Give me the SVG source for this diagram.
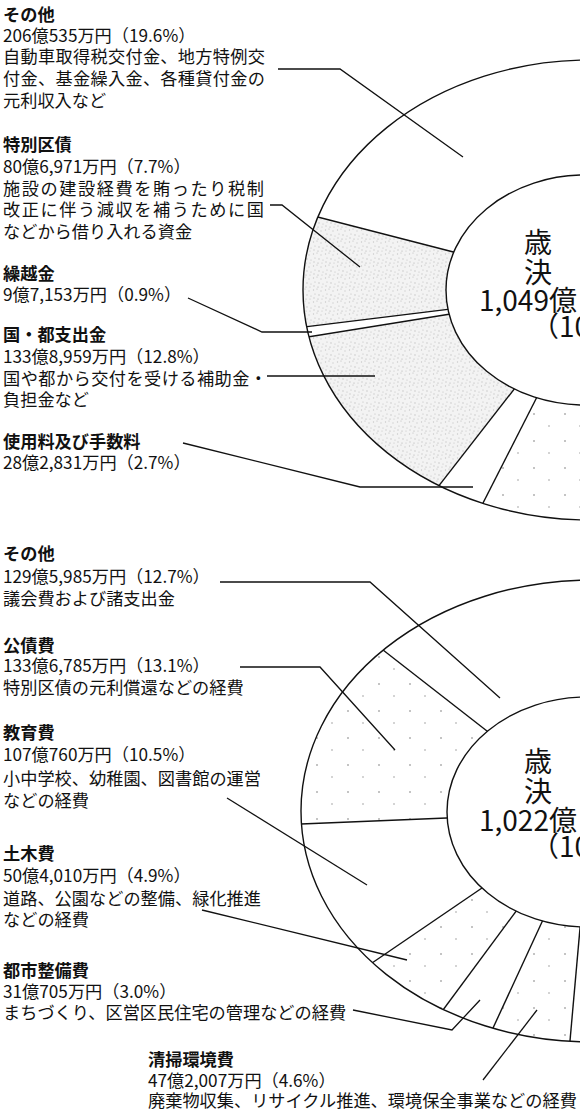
<svg xmlns="http://www.w3.org/2000/svg" width="580" height="1111" viewBox="0 0 580 1111">
<defs>
<style>
.t{font-family:"Noto Sans CJK JP","Noto Sans",sans-serif;font-size:17.2px;fill:#111}
.b{font-weight:bold}
.c{font-family:"Noto Sans CJK JP","Noto Sans",sans-serif;font-size:28px;fill:#111}
.ring{fill:none;stroke:#111;stroke-width:1.4}
.sep{stroke:#111;stroke-width:1.4;fill:none}
.lead{stroke:#111;stroke-width:1.3;fill:none}
.dense{fill:url(#dense)}
.sparse{fill:url(#sparse)}
</style>
<pattern id="dense" width="12" height="12" patternUnits="userSpaceOnUse">
<rect width="12" height="12" fill="#f3f3f3"/>
<circle cx="1.5" cy="2" r="0.7" fill="#c8c8c8"/>
<circle cx="5" cy="1" r="0.5" fill="#b0b0b0"/>
<circle cx="9" cy="3" r="0.8" fill="#d4d4d4"/>
<circle cx="3" cy="6" r="0.6" fill="#bdbdbd"/>
<circle cx="7" cy="7" r="0.9" fill="#d8d8d8"/>
<circle cx="11" cy="8" r="0.5" fill="#b4b4b4"/>
<circle cx="2" cy="10" r="0.8" fill="#cfcfcf"/>
<circle cx="6" cy="11" r="0.5" fill="#a0a0a0"/>
<circle cx="10" cy="11" r="0.6" fill="#c4c4c4"/>
</pattern>
<pattern id="sparse" width="31" height="27" patternUnits="userSpaceOnUse">
<circle cx="7" cy="9" r="0.8" fill="#777"/>
<circle cx="22" cy="21" r="0.7" fill="#888"/>
</pattern>
<clipPath id="ringTop"><path clip-rule="evenodd" d="M303,290 a287,230 0 1,0 574,0 a287,230 0 1,0 -574,0 Z M446,290 a139,115 0 1,0 278,0 a139,115 0 1,0 -278,0 Z"/></clipPath>
<clipPath id="ringBot"><path clip-rule="evenodd" d="M301,811 a291,231 0 1,0 582,0 a291,231 0 1,0 -582,0 Z M447,812 a140,115 0 1,0 280,0 a140,115 0 1,0 -280,0 Z"/></clipPath>
</defs>
<rect width="580" height="1111" fill="#fff"/>

<g id="chart-revenue">
<g clip-path="url(#ringTop)">
<polygon class="dense" points="495,262 276,206 262,333 494,304"/>
<polygon class="dense" points="493,307 265,344 200,560 415,517 538,358"/>
<polygon class="sparse" points="553,365 467,535 470,600 620,600 620,365"/>
<line class="sep" x1="306" y1="214" x2="465" y2="255"/>
<line class="sep" x1="293" y1="328.4" x2="462" y2="307.6"/>
<line class="sep" x1="296.6" y1="338.8" x2="461.4" y2="312.2"/>
<line class="sep" x1="431.8" y1="494.9" x2="521.2" y2="380.1"/>
<line class="sep" x1="478.7" y1="511.5" x2="541.3" y2="388.5"/>
</g>
<ellipse class="ring" cx="590" cy="290" rx="287" ry="230"/>
<ellipse class="ring" cx="585" cy="290" rx="139" ry="115"/>
</g>

<g id="chart-expenditure">
<g clip-path="url(#ringBot)">
<polygon class="sparse" points="518,755 352,626 256,826 491,816"/>
<polygon class="sparse" points="515,865.5 339,985.5 420.8,1040 539.2,880"/>
<polygon class="sparse" points="556.7,890 478,1060 567,1075 583,894"/>
<line class="sep" x1="374.7" y1="643.5" x2="495.3" y2="737.5"/>
<line class="sep" x1="288.2" y1="824.5" x2="458.8" y2="817.5"/>
<line class="sep" x1="363.2" y1="969" x2="490.8" y2="882"/>
<line class="sep" x1="437.1" y1="1018" x2="522.9" y2="902"/>
<line class="sep" x1="489.1" y1="1036.5" x2="545.9" y2="913.5"/>
<line class="sep" x1="569" y1="1052" x2="581" y2="917"/>
</g>
<ellipse class="ring" cx="592" cy="811" rx="291" ry="231"/>
<ellipse class="ring" cx="587" cy="812" rx="140" ry="115"/>
</g>

<g id="center-revenue">
<text class="c" x="524" y="253">歳</text>
<text class="c" x="524" y="283">決</text>
<text class="c" x="479" y="311">1,049億</text>
<text class="c" x="531" y="337">（10</text>
</g>
<g id="center-expenditure">
<text class="c" x="524" y="772">歳</text>
<text class="c" x="524" y="802">決</text>
<text class="c" x="479" y="831">1,022億</text>
<text class="c" x="531" y="857">（10</text>
</g>

<g id="label-rev-other">
<text class="t b" x="3" y="21">その他</text>
<text class="t" x="3" y="42">206億535万円（19.6%）</text>
<text class="t" x="3" y="63" textLength="262" lengthAdjust="spacing">自動車取得税交付金、地方特例交</text>
<text class="t" x="3" y="85" textLength="262" lengthAdjust="spacing">付金、基金繰入金、各種貸付金の</text>
<text class="t" x="3" y="107">元利収入など</text>
</g>
<g id="label-rev-bond">
<text class="t b" x="3" y="151">特別区債</text>
<text class="t" x="3" y="173">80億6,971万円（7.7%）</text>
<text class="t" x="3" y="195" textLength="261" lengthAdjust="spacing">施設の建設経費を賄ったり税制</text>
<text class="t" x="3" y="216" textLength="261" lengthAdjust="spacing">改正に伴う減収を補うために国</text>
<text class="t" x="3" y="238">などから借り入れる資金</text>
</g>
<g id="label-rev-carry">
<text class="t b" x="3" y="280">繰越金</text>
<text class="t" x="3" y="301">9億7,153万円（0.9%）</text>
</g>
<g id="label-rev-subsidy">
<text class="t b" x="3" y="341">国・都支出金</text>
<text class="t" x="3" y="363">133億8,959万円（12.8%）</text>
<text class="t" x="3" y="385" textLength="264" lengthAdjust="spacing">国や都から交付を受ける補助金・</text>
<text class="t" x="3" y="406">負担金など</text>
</g>
<g id="label-rev-fees">
<text class="t b" x="3" y="448">使用料及び手数料</text>
<text class="t" x="3" y="469">28億2,831万円（2.7%）</text>
</g>

<g id="label-exp-other">
<text class="t b" x="3" y="560">その他</text>
<text class="t" x="3" y="583">129億5,985万円（12.7%）</text>
<text class="t" x="3" y="605">議会費および諸支出金</text>
</g>
<g id="label-exp-debt">
<text class="t b" x="3" y="652">公債費</text>
<text class="t" x="3" y="672">133億6,785万円（13.1%）</text>
<text class="t" x="3" y="694">特別区債の元利償還などの経費</text>
</g>
<g id="label-exp-edu">
<text class="t b" x="3" y="739">教育費</text>
<text class="t" x="3" y="761">107億760万円（10.5%）</text>
<text class="t" x="3" y="785" textLength="258" lengthAdjust="spacing">小中学校、幼稚園、図書館の運営</text>
<text class="t" x="3" y="807">などの経費</text>
</g>
<g id="label-exp-civil">
<text class="t b" x="3" y="860">土木費</text>
<text class="t" x="3" y="882">50億4,010万円（4.9%）</text>
<text class="t" x="3" y="905" textLength="258" lengthAdjust="spacing">道路、公園などの整備、緑化推進</text>
<text class="t" x="3" y="926">などの経費</text>
</g>
<g id="label-exp-urban">
<text class="t b" x="3" y="977">都市整備費</text>
<text class="t" x="3" y="998">31億705万円（3.0%）</text>
<text class="t" x="3" y="1019">まちづくり、区営区民住宅の管理などの経費</text>
</g>
<g id="label-exp-clean">
<text class="t b" x="148" y="1066">清掃環境費</text>
<text class="t" x="148" y="1087">47億2,007万円（4.6%）</text>
<text class="t" x="148" y="1107">廃棄物収集、リサイクル推進、環境保全事業などの経費</text>
</g>

<g id="connectors">
<path class="lead" d="M278,69 H340 L463,157"/>
<path class="lead" d="M270,205 H282 L360,267"/>
<path class="lead" d="M188,298 L262,332 H312"/>
<path class="lead" d="M267,376 H375"/>
<path class="lead" d="M183,443 L360,487 H473"/>
<path class="lead" d="M220,582 H370 L500,698"/>
<path class="lead" d="M240,667 H320 L395,750"/>
<path class="lead" d="M227,798 L367,885"/>
<path class="lead" d="M202,910 L407,960"/>
<path class="lead" d="M353,1010 L452,1030 L480,1000"/>
<path class="lead" d="M483,1080 L537,1010"/>
</g>
</svg>
